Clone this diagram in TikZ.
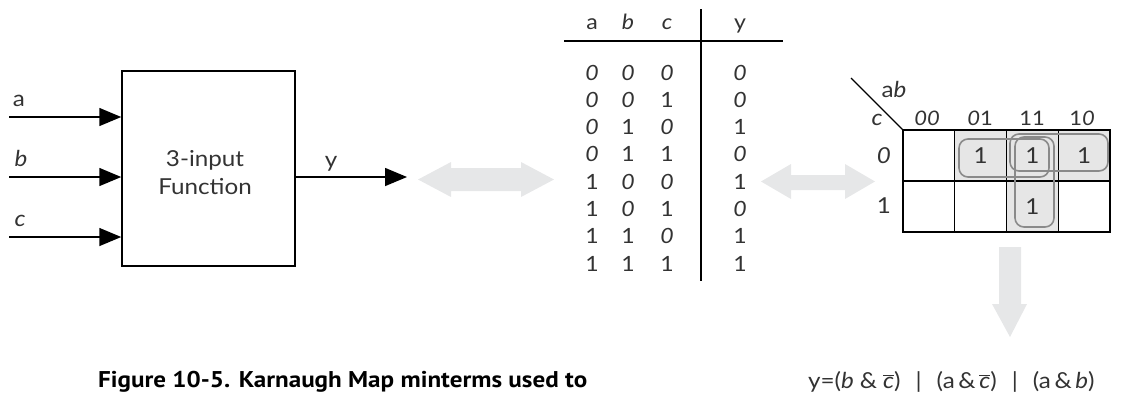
\documentclass[tikz,border=0pt]{standalone}
\usepackage{fontspec}
\setmainfont{Lato}[FakeStretch=1.1]
\newfontfamily\capfont{PT Sans}[FakeStretch=1.1]
\usetikzlibrary{arrows.meta}
\definecolor{arrowgray}{HTML}{E6E7E8}
\definecolor{loopgray}{HTML}{8A8A8A}
\definecolor{cellgray}{HTML}{E6E6E6}
\definecolor{ink}{HTML}{333333}
\begin{document}
\begin{tikzpicture}[x=1pt,y=-1pt,
  lbl/.style={anchor=base,inner sep=0pt,text=ink,font=\fontsize{22}{24}\selectfont},
  tbl/.style={anchor=base,inner sep=0pt,text=ink,font=\fontsize{21}{23}\selectfont},
  kml/.style={anchor=base,inner sep=0pt,text=ink,font=\fontsize{22}{24}\selectfont},
  khd/.style={anchor=base,inner sep=0pt,text=ink,font=\fontsize{20}{22}\selectfont},
  sig/.style={line width=1.5pt,-{Triangle[length=22pt,width=18pt]}},
  grayarrow/.style={fill=arrowgray,draw=none},
  kloop/.style={draw=loopgray,line width=1.6pt,rounded corners=9pt},
  cell/.style={draw=black,line width=1.4pt,minimum width=51.75pt,minimum height=51pt,inner sep=0pt,outer sep=0pt}
]
\useasboundingbox (0,0) rectangle (1134,392);

% ---- function block ----
\node[draw,line width=1.5pt,minimum width=173pt,minimum height=195pt,inner sep=0pt] (fn) at (208.5,168.5) {};
\node[lbl] (t1) at (205,166) {3-input};
\node[lbl] (t2) at (205,194) {Function};
\coordinate (ia) at (9,117);
\coordinate (ib) at (9,177);
\coordinate (ic) at (9,237);
\draw[sig] (ia) -- (fn.west |- ia);
\draw[sig] (ib) -- (fn.west |- ib);
\draw[sig] (ic) -- (fn.west |- ic);
\node[lbl] (la) at (19,106) {a};
\node[lbl] (lb) at (21,166) {\textit{b}};
\node[lbl] (lc) at (20,226) {\textit{c}};
\coordinate (oy) at (407,177);
\draw[sig] (fn.east |- oy) -- (oy);
\node[lbl] (ly) at (331,167) {y};

% ---- gray arrows ----
\fill[grayarrow] (418,179.5) -- (451,162) -- (451,168) -- (521,168) -- (521,162) -- (554,179.5) -- (521,197) -- (521,191) -- (451,191) -- (451,197) -- cycle;
\fill[grayarrow] (761,181.5) -- (791,164) -- (791,175) -- (845,175) -- (845,164) -- (875,181.5) -- (845,199) -- (845,190) -- (791,190) -- (791,199) -- cycle;
\fill[grayarrow] (999,247) -- (1021,247) -- (1021,304) -- (1027,304) -- (1010,337) -- (992,304) -- (999,304) -- cycle;

% ---- truth table ----
\draw[line width=1.3pt] (564,41) -- (783,41);
\draw[line width=1.3pt] (701,9) -- (701,281);
\node[tbl] (ha) at (592,29) {a};
\node[tbl] (hb) at (628,29) {\textit{b}};
\node[tbl] (hc) at (667,29) {\textit{c}};
\node[tbl] (hy) at (740,29) {y};
\foreach \i/\a/\b/\c/\y in {0/\textit{0}/\textit{0}/\textit{0}/\textit{0},
                            1/\textit{0}/\textit{0}/1/\textit{0},
                            2/\textit{0}/1/\textit{0}/1,
                            3/\textit{0}/1/1/\textit{0},
                            4/1/\textit{0}/\textit{0}/1,
                            5/1/\textit{0}/1/\textit{0},
                            6/1/1/\textit{0}/1,
                            7/1/1/1/1}{
  \node[tbl] (ra\i) at (592,{80+27.3*\i}) {\a};
  \node[tbl] (rb\i) at (628,{80+27.3*\i}) {\b};
  \node[tbl] (rc\i) at (667,{80+27.3*\i}) {\c};
  \node[tbl] (ry\i) at (740,{80+27.3*\i}) {\y};
}

% ---- Karnaugh map ----
\foreach \c/\cx in {0/928.875,1/980.625,2/1032.375,3/1084.125}{
  \foreach \r/\ry in {0/155.5,1/206.5}{
    \node[cell] (k\r\c) at (\cx,\ry) {};
  }
}
\foreach \r/\c in {0/1,0/2,0/3,1/2}{
  \node[cell,fill=cellgray] (s\r\c) at (k\r\c) {};
}
\coordinate (dg) at (851,78);
\draw[line width=1.3pt] (dg) -- (k00.north west);
\node[kml] (kab) at (894,97) {a\textit{b}};
\node[kml] (kc) at (877,125) {\textit{c}};
\node[khd] (h00) at (927,125) {\textit{00}};
\node[khd] (h01) at (980,125) {\textit{0}1};
\node[khd] (h11) at (1032,125) {11};
\node[khd] (h10) at (1082,125) {1\textit{0}};
\node[kml] (r0) at (884,163) {\textit{0}};
\node[kml] (r1) at (884,213) {1};
\node[kml] (o01) at (k01) [yshift=-8pt] {1};
\node[kml] (o02) at (k02) [yshift=-8pt] {1};
\node[kml] (o03) at (k03) [yshift=-8pt] {1};
\node[kml] (o12) at (k12) [yshift=-8pt] {1};
\draw[kloop] (959,139) rectangle (1049,177);
\draw[kloop] (1010,134) rectangle (1108,171);
\draw[kloop] (1015,137) rectangle (1054,227);

% ---- equation and caption ----
\node[anchor=base west,inner sep=0pt,text=ink,font=\fontsize{22}{24}\selectfont] (eq) at (808,388)
  {y=(\textit{b}\hspace{6pt}\&\hspace{6pt}$\overline{\mbox{\textit{c}}}$)\hspace{15pt}|\hspace{15pt}(a\,\&\,$\overline{\mbox{\textit{c}}}$)\hspace{15pt}|\hspace{15pt}(a\,\&\,\textit{b})};
\node[anchor=base west,inner sep=0pt,font=\capfont\bfseries\fontsize{22.8}{25}\selectfont] (cap) at (98,387)
  {Figure 10-5. Karnaugh Map minterms used to};
\end{tikzpicture}
\end{document}
